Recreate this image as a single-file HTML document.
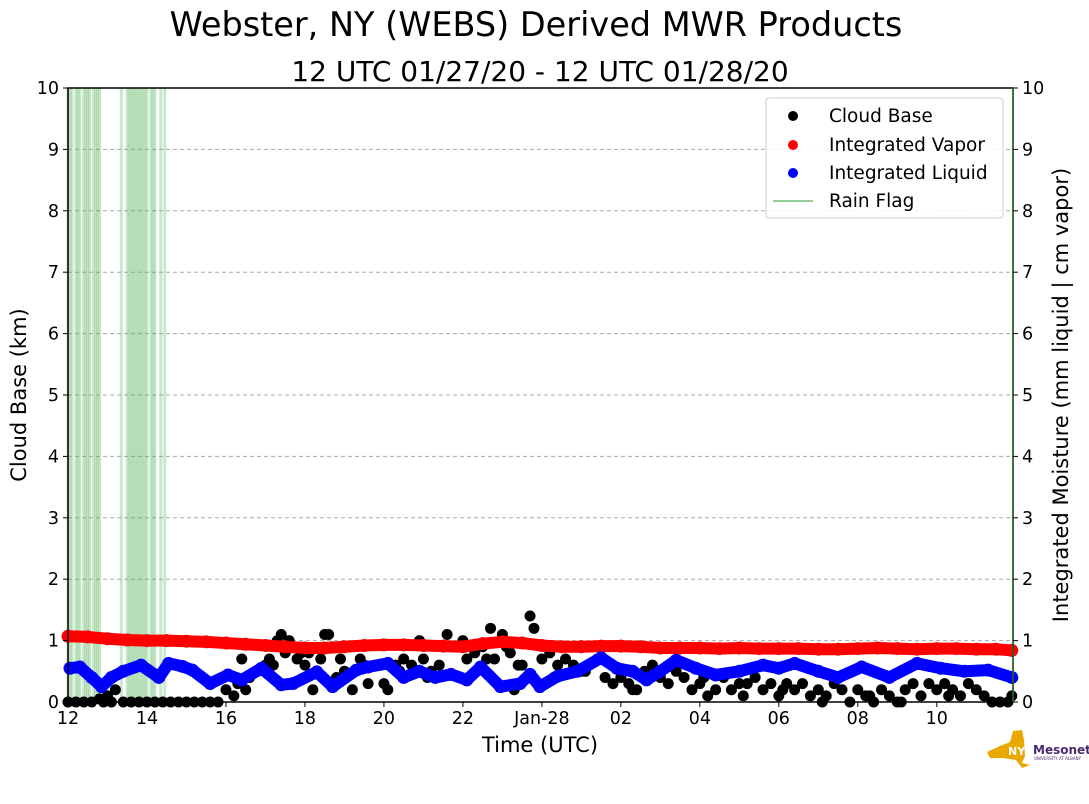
<!DOCTYPE html>
<html><head><meta charset="utf-8"><style>
body{margin:0;background:#fff;}
svg{display:block;font-family:"DejaVu Sans","Liberation Sans",sans-serif;}
</style></head><body>
<svg id="chart" width="1089" height="804" viewBox="0 0 1089 804">
<text x="536" y="36" font-size="33.5" text-anchor="middle">Webster, NY (WEBS) Derived MWR Products</text>
<text x="540" y="81" font-size="28" text-anchor="middle">12 UTC 01/27/20 - 12 UTC 01/28/20</text>
<g id="grid"></g><g id="rain"></g><g id="marks"></g><g id="axes"></g>
<text x="540" y="752" font-size="21" text-anchor="middle">Time (UTC)</text>
<text transform="translate(26,395) rotate(-90)" font-size="21" text-anchor="middle">Cloud Base (km)</text>
<text transform="translate(1068,395) rotate(-90)" font-size="21" text-anchor="middle">Integrated Moisture (mm liquid | cm vapor)</text>
<g>
<rect x="766" y="98" width="237" height="120" rx="3" fill="#fff" fill-opacity="0.85" stroke="#ccc"/>
<circle cx="793" cy="116" r="5" fill="#000"/><text x="829" y="122" font-size="18.5">Cloud Base</text>
<circle cx="793" cy="145" r="5" fill="red"/><text x="829" y="151" font-size="18.5">Integrated Vapor</text>
<circle cx="793" cy="173" r="5" fill="blue"/><text x="829" y="179" font-size="18.5">Integrated Liquid</text>
<line x1="773" y1="201" x2="813" y2="201" stroke="#4caf50" stroke-width="1.5" opacity="0.8"/><text x="829" y="207" font-size="18.5">Rain Flag</text>
</g>
<g>
<polygon points="987,752 1000,746 1010,742 1013,731 1022,730 1024,740 1025,756 1022,763 1030,765 1022,768 1016,760 1003,758 990,758" fill="#e9a800"/>
<text x="1008" y="755" font-size="11" font-weight="bold" fill="#fff">NYS</text>
<text x="1033" y="754" font-size="12" font-weight="bold" fill="#4b2a6e">Mesonet</text>
<text x="1034" y="760" font-size="4" fill="#4b2a6e">UNIVERSITY AT ALBANY</text>
</g>
</svg>
<script>
const xTickHours=[12,14,16,18,20,22,24,26,28,30,32,34];
const xTickLabels=["12","14","16","18","20","22","Jan-28","02","04","06","08","10"];
const yTicks=[0,1,2,3,4,5,6,7,8,9,10];
const rainHours=[12.0,12.05,12.1,12.2,12.25,12.3,12.4,12.45,12.5,12.55,12.65,12.7,12.75,12.8,13.35,13.5,13.55,13.6,13.65,13.7,13.75,13.8,13.85,13.9,13.95,14.0,14.1,14.15,14.2,14.35,14.45];
const vapHours=[12,12.5,13,13.5,14,14.5,15,15.5,16,16.5,17,17.5,18,18.5,19,19.5,20,20.5,21,21.5,22,22.5,23,23.5,24,24.5,25,25.5,26,26.5,27,27.5,28,28.5,29,29.5,30,30.5,31,31.5,32,32.5,33,33.5,34,34.5,35,35.5,35.9];
const vapVals=[1.07,1.06,1.03,1.01,1.0,1.0,0.99,0.98,0.96,0.94,0.92,0.9,0.88,0.88,0.9,0.92,0.93,0.93,0.92,0.91,0.9,0.95,0.98,0.96,0.92,0.9,0.9,0.91,0.91,0.9,0.88,0.88,0.88,0.87,0.88,0.87,0.87,0.87,0.86,0.86,0.87,0.88,0.87,0.86,0.87,0.87,0.86,0.86,0.84];
const liqHours=[12.05,12.3,12.6,12.85,13.1,13.4,13.85,14.3,14.55,14.9,15.15,15.6,16.05,16.4,16.9,17.4,17.7,18.3,18.7,19.3,19.6,20.1,20.5,20.9,21.3,21.7,22.1,22.45,22.95,23.45,23.7,23.95,24.4,24.9,25.5,25.9,26.3,26.65,27.0,27.4,27.9,28.4,29.0,29.6,30.0,30.4,31.0,31.5,32.1,32.8,33.5,34.1,34.7,35.3,35.9];
const liqVals=[0.55,0.57,0.4,0.25,0.4,0.5,0.6,0.4,0.63,0.58,0.52,0.3,0.44,0.36,0.55,0.28,0.3,0.49,0.25,0.52,0.57,0.63,0.4,0.5,0.4,0.45,0.36,0.57,0.25,0.3,0.45,0.25,0.42,0.5,0.72,0.55,0.5,0.36,0.5,0.68,0.55,0.44,0.5,0.6,0.55,0.63,0.5,0.4,0.57,0.4,0.63,0.55,0.5,0.52,0.4];
const cbHours=[12.0,12.2,12.4,12.6,12.8,13.0,13.2,13.4,13.6,13.8,14.0,14.2,14.4,14.6,14.8,15.0,15.2,15.4,15.6,15.8,16.0,16.2,16.3,16.5,16.6,16.8,17.0,17.1,17.3,17.4,17.5,17.6,17.8,17.9,18.0,18.2,18.4,18.5,18.6,18.7,18.9,19.0,19.2,19.4,19.6,19.8,20.0,20.1,20.3,20.5,20.7,20.9,21.0,21.2,21.4,21.6,21.8,22.0,22.1,22.3,22.5,22.7,22.8,23.0,23.1,23.2,23.3,23.5,23.7,23.8,24.0,24.2,24.4,24.6,24.8,25.0,25.2,25.4,25.6,25.8,26.0,26.2,26.4,26.6,26.8,27.0,27.2,27.4,27.6,27.8,28.0,28.2,28.4,28.6,28.8,29.0,29.2,29.4,29.6,29.8,30.0,30.2,30.4,30.6,30.8,31.0,31.2,31.4,31.6,31.8,32.0,32.2,32.4,32.6,32.8,33.0,33.2,33.4,33.6,33.8,34.0,34.2,34.4,34.6,34.8,35.0,35.2,35.4,35.6,35.8,35.9,12.9,13.1,16.4,17.2,17.6,18.1,18.8,19.5,20.4,21.1,22.6,23.4,24.3,25.1,26.3,28.1,29.1,30.1,31.1,32.3,33.1,34.3];
const cbKm=[0,0,0,0,0.05,0.1,0.2,0,0,0,0,0,0,0,0,0,0,0,0,0,0.2,0.1,0.3,0.2,0.4,0.5,0.6,0.7,1.0,1.1,0.8,1.0,0.7,0.8,0.6,0.2,0.7,1.1,1.1,0.9,0.7,0.5,0.2,0.7,0.3,0.6,0.3,0.2,0.6,0.7,0.6,1.0,0.7,0.5,0.6,1.1,0.9,1.0,0.7,0.8,0.9,1.2,0.7,1.1,0.9,0.8,0.2,0.6,1.4,1.2,0.7,0.8,0.6,0.7,0.6,0.5,0.6,0.7,0.4,0.3,0.4,0.3,0.2,0.5,0.6,0.4,0.3,0.5,0.4,0.2,0.3,0.1,0.2,0.4,0.2,0.3,0.3,0.4,0.2,0.3,0.1,0.3,0.2,0.3,0.1,0.2,0.1,0.3,0.2,0.0,0.2,0.1,0.0,0.2,0.1,0.0,0.2,0.3,0.1,0.3,0.2,0.3,0.2,0.1,0.3,0.2,0.1,0.0,0.0,0.0,0.1,0.0,0.0,0.7,0.6,0.3,0.8,0.4,0.6,0.5,0.4,0.7,0.6,0.4,0.5,0.2,0.4,0.1,0.2,0.0,0.1,0.0,0.1];

const X0=68,X1=1013,Y0=702,Y1=88,H0=12,H1=35.93;
const xs=h=>X0+(h-H0)/(H1-H0)*(X1-X0);
const ys=v=>Y0-v/10*(Y0-Y1);
const NS="http://www.w3.org/2000/svg";
function mk(tag,attrs,parent){const e=document.createElementNS(NS,tag);for(const k in attrs)e.setAttribute(k,attrs[k]);parent.appendChild(e);return e;}
const grid=document.getElementById('grid'),rain=document.getElementById('rain'),marks=document.getElementById('marks'),axes=document.getElementById('axes');
yTicks.forEach(v=>{if(v>0&&v<10){const l=mk('line',{x1:X0,x2:X1,y1:ys(v),y2:ys(v),stroke:'#aaa','stroke-dasharray':'4,3'},grid);

}});
rainHours.forEach(h=>{const r=mk('rect',{x:xs(h)-1.5,y:Y1,width:3,height:Y0-Y1,fill:'#4caf50',opacity:0.3},rain);

});
cbHours.forEach((h,i)=>{const c=mk('circle',{cx:xs(h),cy:ys(cbKm[i]),r:5.5,fill:'#000'},marks);

});
function series(hours,vals,color,name){
 const pts=hours.map((h,i)=>xs(h)+','+ys(vals[i])).join(' ');
 const pl=mk('polyline',{points:pts,fill:'none',stroke:color,'stroke-width':12,'stroke-linejoin':'round','stroke-linecap':'round'},marks);
 
 
 hours.forEach((h,i)=>{const c=mk('circle',{cx:xs(h),cy:ys(vals[i]),r:6.5,fill:color},marks);
 
 });
}
series(vapHours,vapVals,'red','integrated-vapor');
series(liqHours,liqVals,'blue','integrated-liquid');
const f=mk('rect',{x:X0,y:Y1,width:X1-X0,height:Y0-Y1,fill:'none',stroke:'#000','stroke-width':1.5},axes);


mk('line',{x1:X1,x2:X1,y1:Y1,y2:Y0,stroke:'#2a6e2a','stroke-width':1.5},axes);
yTicks.forEach(v=>{
 mk('line',{x1:X0-5,x2:X0,y1:ys(v),y2:ys(v),stroke:'#000'},axes);
 mk('line',{x1:X1,x2:X1+5,y1:ys(v),y2:ys(v),stroke:'#000'},axes);
 const t=mk('text',{x:X0-9,y:ys(v)+6,'font-size':17.5,'text-anchor':'end'},axes);t.textContent=v;
 
 
 const t2=mk('text',{x:X1+9,y:ys(v)+6,'font-size':17.5},axes);t2.textContent=v;
 
 
});
xTickHours.forEach((h,i)=>{
 mk('line',{x1:xs(h),x2:xs(h),y1:Y0,y2:Y0+5,stroke:'#000'},axes);
 const t=mk('text',{x:xs(h),y:Y0+22,'font-size':17.5,'text-anchor':'middle'},axes);t.textContent=xTickLabels[i];
 
 
});
</script>
</body></html>
